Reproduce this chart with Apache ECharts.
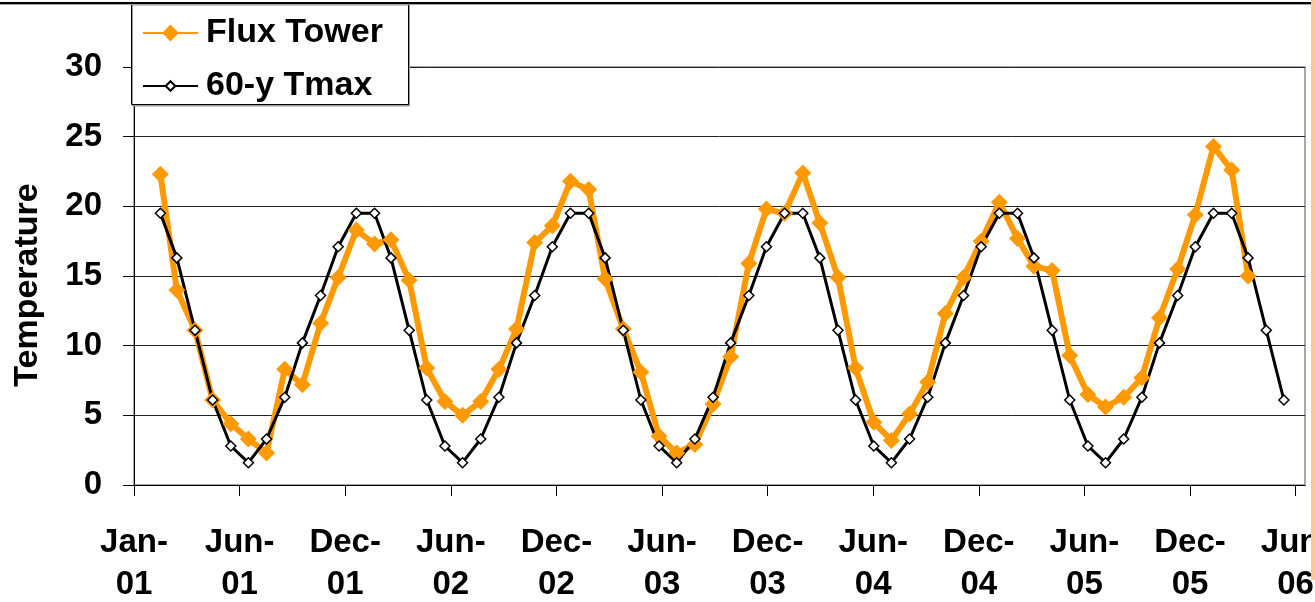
<!DOCTYPE html>
<html>
<head>
<meta charset="utf-8">
<title>Flux Tower vs 60-y Tmax</title>
<script src="https://cdn.jsdelivr.net/npm/echarts@6/dist/echarts.min.js"></script>
<style>
  html, body { margin: 0; padding: 0; background: #ffffff; }
  #chart { width: 1315px; height: 602px; }
</style>
</head>
<body>
<div id="chart"></div>
<script>
// Monthly observation months (values are plotted at mid-month)
const months = [
  '2001-02','2001-03','2001-04','2001-05','2001-06','2001-07','2001-08','2001-09','2001-10','2001-11','2001-12',
  '2002-01','2002-02','2002-03','2002-04','2002-05','2002-06','2002-07','2002-08','2002-09','2002-10','2002-11','2002-12',
  '2003-01','2003-02','2003-03','2003-04','2003-05','2003-06','2003-07','2003-08','2003-09','2003-10','2003-11','2003-12',
  '2004-01','2004-02','2004-03','2004-04','2004-05','2004-06','2004-07','2004-08','2004-09','2004-10','2004-11','2004-12',
  '2005-01','2005-02','2005-03','2005-04','2005-05','2005-06','2005-07','2005-08','2005-09','2005-10','2005-11','2005-12',
  '2006-01','2006-02','2006-03','2006-04','2006-05'
];

// Flux tower monthly mean temperature (Feb 2001 - Mar 2006)
const fluxTower = [
  22.3, 14.0, 11.1, 6.1, 4.4, 3.3, 2.3, 8.3, 7.2, 11.6, 14.9,
  18.3, 17.3, 17.6, 14.7, 8.4, 6.0, 5.0, 6.0, 8.3, 11.2, 17.4, 18.6,
  21.8, 21.2, 14.8, 11.2, 8.1, 3.5, 2.3, 2.9, 5.8, 9.2, 15.9, 19.8,
  19.5, 22.4, 18.8, 14.9, 8.4, 4.5, 3.2, 5.1, 7.4, 12.3, 14.9, 17.5,
  20.3, 17.7, 15.7, 15.4, 9.3, 6.5, 5.6, 6.3, 7.7, 12.0, 15.5, 19.4,
  24.3, 22.6, 15.0
];

// 60-year mean monthly maximum temperature (Feb 2001 - May 2006)
const tmax60 = [
  19.5, 16.3, 11.1, 6.1, 2.8, 1.6, 3.3, 6.3, 10.2, 13.6, 17.1,
  19.5, 19.5, 16.3, 11.1, 6.1, 2.8, 1.6, 3.3, 6.3, 10.2, 13.6, 17.1,
  19.5, 19.5, 16.3, 11.1, 6.1, 2.8, 1.6, 3.3, 6.3, 10.2, 13.6, 17.1,
  19.5, 19.5, 16.3, 11.1, 6.1, 2.8, 1.6, 3.3, 6.3, 10.2, 13.6, 17.1,
  19.5, 19.5, 16.3, 11.1, 6.1, 2.8, 1.6, 3.3, 6.3, 10.2, 13.6, 17.1,
  19.5, 19.5, 16.3, 11.1, 6.1
];

// Date-axis tick labels, one every 180 days from 1 Jan 2001
const xTickLabels = ['Jan-01','Jun-01','Dec-01','Jun-02','Dec-02','Jun-03',
                     'Dec-03','Jun-04','Dec-04','Jun-05','Dec-05','Jun-06'];
const TICK_STEP_DAYS = 180;
const AXIS_END_DAYS = 1996;

const seriesNames = ['Flux Tower', '60-y Tmax'];

const DAY_MS = 86400000;
const ORIGIN = Date.UTC(2001, 0, 1);
function dayOffset(ym) {
  const [y, m] = ym.split('-').map(Number);
  return (Date.UTC(y, m - 1, 15) - ORIGIN) / DAY_MS;
}
const xDays = months.map(dayOffset);
const fluxData = fluxTower.map((v, i) => [xDays[i], v]);
const tmaxData = tmax60.map((v, i) => [xDays[i], v]);
const tickDays = xTickLabels.map((_, i) => i * TICK_STEP_DAYS);

const FONT = "'Liberation Sans', Arial, sans-serif";

const chart = echarts.init(document.getElementById('chart'));
chart.setOption({
  backgroundColor: '#ffffff',
  animation: false,
  grid: {
    left: 134, right: 10, top: 67, bottom: 117,
    outerBoundsMode: 'none',
    containLabel: false,
    show: true, backgroundColor: '#ffffff',
    borderColor: '#8c8c8c', borderWidth: 1.5
  },
  xAxis: {
    type: 'value',
    min: 0, max: AXIS_END_DAYS,
    interval: TICK_STEP_DAYS,
    axisLine: { show: true, onZero: false, lineStyle: { color: '#000', width: 1 } },
    axisTick: { show: true, length: 11, customValues: tickDays, lineStyle: { color: '#000', width: 1 } },
    axisLabel: {
      customValues: tickDays,
      margin: 37,
      hideOverlap: false,
      fontSize: 33, fontWeight: 'bold', fontFamily: FONT, color: '#000',
      lineHeight: 42,
      formatter: v => {
        const lab = xTickLabels[Math.round(v / TICK_STEP_DAYS)] || '';
        return lab.replace('-', '-\n');
      }
    },
    splitLine: { show: false }
  },
  yAxis: {
    type: 'value',
    min: 0, max: 30, interval: 5,
    name: 'Temperature',
    nameLocation: 'middle',
    nameRotate: 90,
    nameGap: 89,
    nameTextStyle: { fontSize: 34, fontWeight: 'bold', fontFamily: FONT, color: '#000', padding: [0, 18, 0, 0] },
    axisLine: { show: true, lineStyle: { color: '#000', width: 1 } },
    axisTick: { show: true, length: 11, lineStyle: { color: '#000', width: 1 } },
    axisLabel: { margin: 32, fontSize: 33, fontWeight: 'bold', fontFamily: FONT, color: '#000' },
    splitLine: { show: true, lineStyle: { color: '#222', width: 1 } }
  },
  legend: [
    {
      data: [seriesNames[0]],
      orient: 'vertical', left: 142, top: 16, padding: 0,
      itemWidth: 55, itemHeight: 21, selectedMode: false,
      textStyle: { fontSize: 34, fontWeight: 'bold', fontFamily: FONT, color: '#000', padding: [0, 0, 0, 3] }
    },
    {
      data: [seriesNames[1]],
      orient: 'vertical', left: 142, top: 69, padding: 0,
      itemWidth: 55, itemHeight: 12, selectedMode: false,
      textStyle: { fontSize: 34, fontWeight: 'bold', fontFamily: FONT, color: '#000', padding: [0, 0, 0, 3] }
    }
  ],
  graphic: [
    // legend frame
    { type: 'rect', z: 3, shape: { x: 131.5, y: 3.5, width: 277, height: 101 },
      style: { fill: '#fff', stroke: '#000', lineWidth: 1,
               shadowColor: '#9a9a9a', shadowOffsetX: 1, shadowOffsetY: 1.5, shadowBlur: 0 } },
    // top frame edge
    { type: 'rect', z: 20, shape: { x: 0, y: 2, width: 1311, height: 2 }, style: { fill: '#000' } },
    { type: 'rect', z: 20, shape: { x: 0, y: 4, width: 1311, height: 1 }, style: { fill: '#a0a0a0' } },
    // right page edge
    { type: 'rect', z: 20, shape: { x: 1311, y: 0, width: 4, height: 580 }, style: { fill: '#fcc895' } }
  ],
  series: [
    {
      name: seriesNames[0],
      type: 'line',
      z: 2,
      data: fluxData,
      symbol: 'diamond', symbolSize: 17,
      lineStyle: { color: '#ff9900', width: 6 },
      itemStyle: { color: '#ff9900' }
    },
    {
      name: seriesNames[1],
      type: 'line',
      z: 2,
      data: tmaxData,
      symbol: 'diamond', symbolSize: 10,
      lineStyle: { color: '#000', width: 3 },
      itemStyle: { color: '#fff', borderColor: '#000', borderWidth: 1.5 }
    }
  ]
});
</script>
</body>
</html>
